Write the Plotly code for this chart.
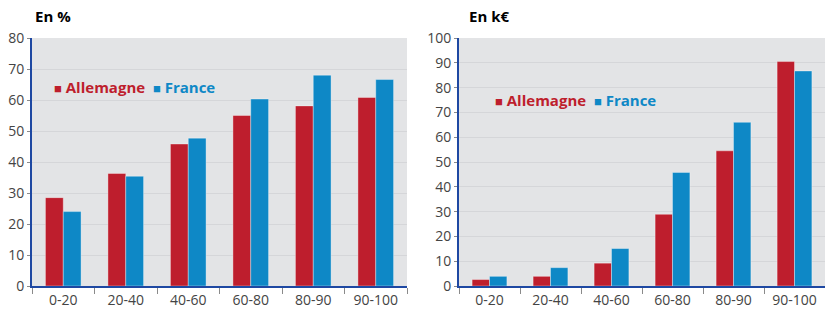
import plotly.graph_objects as go

categories = ["0-20", "20-40", "40-60", "60-80", "80-90", "90-100"]
series_names = ["Allemagne", "France"]
pct_allemagne = [28.5, 36.3, 45.8, 55.0, 58.1, 60.8]
pct_france = [24.0, 35.4, 47.7, 60.3, 68.0, 66.6]
keur_allemagne = [2.6, 3.9, 9.2, 28.9, 54.5, 90.5]
keur_france = [3.9, 7.4, 15.1, 45.8, 66.0, 86.7]
titles = ["En %", "En k€"]

RED = "#BE1E2D"
BLUE = "#0E88C6"
AXIS = "#1E48A2"
W, H = 825, 309
FONT = "Open Sans"

fig = go.Figure()

def bars(x_ref, y_ref, a, f):
    fig.add_trace(go.Bar(x=categories, y=a, name=series_names[0], marker=dict(color=RED, line=dict(color="rgba(255,255,255,0.35)", width=1)),
                         xaxis=x_ref, yaxis=y_ref, showlegend=False))
    fig.add_trace(go.Bar(x=categories, y=f, name=series_names[1], marker=dict(color=BLUE, line=dict(color="rgba(255,255,255,0.35)", width=1)),
                         xaxis=x_ref, yaxis=y_ref, showlegend=False))

bars("x", "y", pct_allemagne, pct_france)
bars("x2", "y2", keur_allemagne, keur_france)

ydom = [1 - 286 / H, 1 - 38 / H]
xdom1 = [32 / W, 407 / W]
xdom2 = [459 / W, 1.0]

xcommon = dict(type="category", showline=True, linecolor=AXIS, linewidth=2, ticks="outside", tickson="boundaries",
               ticklen=6, tickcolor="#8a8a8a", tickwidth=1, showgrid=False, automargin=False,
               tickfont=dict(family=FONT, size=14, color="#444444"), fixedrange=True)
ycommon = dict(showline=True, linecolor=AXIS, linewidth=2, ticks="outside", ticklen=3, tickcolor="#8a8a8a",
               showgrid=True, gridcolor="#D5D6D9", gridwidth=1, dtick=10, zeroline=False, automargin=False,
               tickfont=dict(family=FONT, size=14, color="#444444"), fixedrange=True)

fig.update_layout(
    width=W, height=H,
    margin=dict(l=0, r=0, t=0, b=0, pad=0),
    paper_bgcolor="white",
    plot_bgcolor="#E3E4E6",
    barmode="group",
    bargap=0.43,
    bargroupgap=0,
    xaxis=dict(domain=xdom1, anchor="y", **xcommon),
    yaxis=dict(domain=ydom, anchor="x", range=[0, 80], **ycommon),
    xaxis2=dict(domain=xdom2, anchor="y2", **xcommon),
    yaxis2=dict(domain=ydom, anchor="x2", range=[0, 100], **ycommon),
)

def legend_text():
    sq = "<span style='font-size:13px'>■</span>"
    return (f"<span style='color:{RED}'>{sq} <b>{series_names[0]}</b></span>  "
            f"<span style='color:{BLUE}'>{sq} <b>{series_names[1]}</b></span>")

annotations = [
    dict(text=f"<b>{titles[0]}</b>", x=33 / W, y=1 - 16 / H, xref="paper", yref="paper", xanchor="left", yanchor="middle",
         showarrow=False, font=dict(family=FONT, size=15, color="black")),
    dict(text=f"<b>{titles[1]}</b>", x=467 / W, y=1 - 16 / H, xref="paper", yref="paper", xanchor="left", yanchor="middle",
         showarrow=False, font=dict(family=FONT, size=15, color="black")),
    dict(text=legend_text(), x=52 / W, y=1 - 87 / H, xref="paper", yref="paper", xanchor="left", yanchor="middle",
         showarrow=False, font=dict(family=FONT, size=15)),
    dict(text=legend_text(), x=493 / W, y=1 - 100 / H, xref="paper", yref="paper", xanchor="left", yanchor="middle",
         showarrow=False, font=dict(family=FONT, size=15)),
]
fig.update_layout(annotations=annotations)

fig.write_html("out.html", config={"displayModeBar": False},
               post_script="document.body.style.margin='0';document.body.style.overflow='hidden';")
